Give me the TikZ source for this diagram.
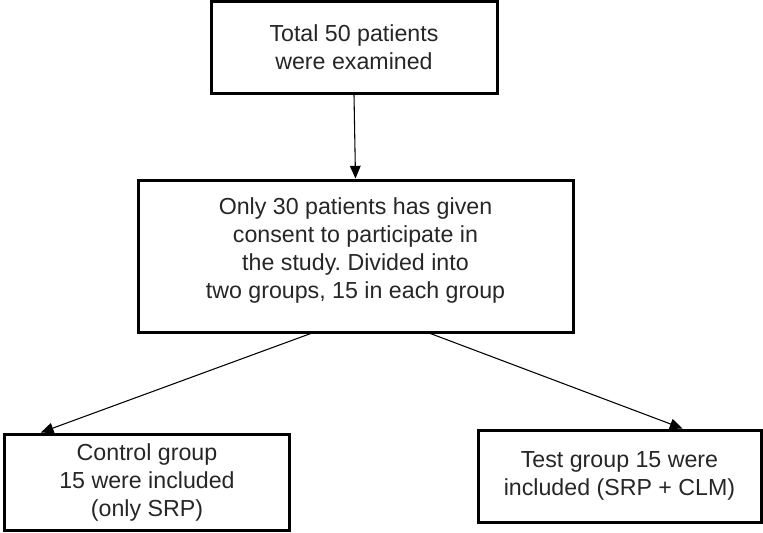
\documentclass[tikz,border=0pt]{standalone}
\usepackage{fontspec}
\setmainfont{Liberation Sans}
\usetikzlibrary{arrows.meta}
\frenchspacing

\begin{document}
\begin{tikzpicture}[x=0.75pt, y=-0.75pt,
  box/.style={draw=black, line width=2.25pt, align=center, inner sep=0pt,
              font=\fontsize{17.4}{21}\selectfont, text=black!85},
  link/.style={line width=0.8pt, -{Triangle[length=9.5pt, width=8pt]}}]

% fix page size
\useasboundingbox (0, 0) rectangle (763, 532);

% draw boxes
\node[box, minimum width=214.5pt, minimum height=69pt] (total) at (354, 47.5)
  {Total 50 patients\\were examined};
\node[box, minimum width=326.25pt, minimum height=114pt, text depth=12.5pt] (consent) at (355.5, 256)
  {Only 30 patients has given\\consent to participate in\\the study. Divided into\\two groups, 15 in each group};
\node[box, minimum width=213.75pt, minimum height=72pt] (control) at (147, 482)
  {Control group\\15 were included\\(only SRP)};
\node[box, minimum width=212.25pt, minimum height=69pt] (test) at (619.5, 476)
  {Test group 15 were\\included (SRP + CLM)};

% draw arrows
\draw[link] (total.south) -- (consent.north);
\draw[link] (consent.240) -- (control.155);
\draw[link] (consent.314) -- (test.37);

\end{tikzpicture}
\end{document}
